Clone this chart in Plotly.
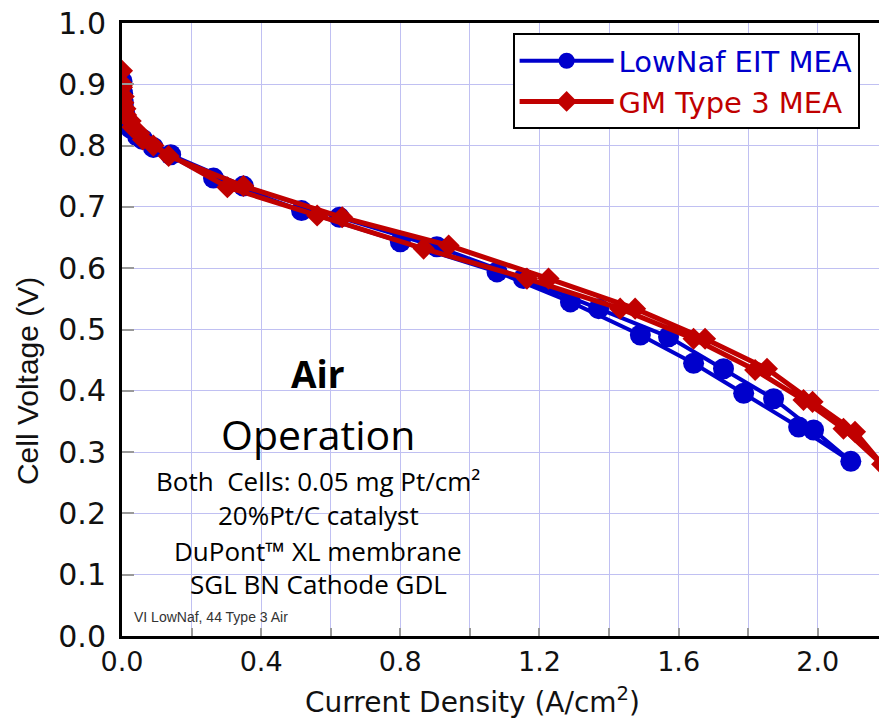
import plotly.graph_objects as go

# LowNaf EIT MEA (sweep up then back down)
blue_x = [0.0, 0.002, 0.004, 0.008, 0.02, 0.045, 0.09, 0.263, 0.516, 0.80, 1.078, 1.289, 1.49, 1.643, 1.787, 1.945, 2.095,
          1.988, 1.873, 1.729, 1.571, 1.37, 1.154, 0.905, 0.625, 0.349, 0.14, 0.06, 0.025, 0.01, 0.003, 0.0]
blue_y = [0.905, 0.885, 0.87, 0.853, 0.833, 0.815, 0.797, 0.747, 0.694, 0.643, 0.594, 0.545, 0.491, 0.445, 0.396, 0.341, 0.285,
          0.336, 0.387, 0.436, 0.488, 0.534, 0.583, 0.635, 0.683, 0.734, 0.785, 0.81, 0.828, 0.845, 0.865, 0.89]

# GM Type 3 MEA
red_x = [0.0, 0.002, 0.005, 0.01, 0.025, 0.05, 0.09, 0.303, 0.561, 0.867, 1.164, 1.432, 1.643, 1.82, 1.959, 2.074, 2.185,
         2.107, 1.985, 1.854, 1.676, 1.475, 1.226, 0.939, 0.633, 0.349, 0.134, 0.06, 0.03, 0.012, 0.004, 0.0]
red_y = [0.922, 0.90, 0.88, 0.86, 0.84, 0.82, 0.80, 0.732, 0.686, 0.632, 0.583, 0.534, 0.485, 0.434, 0.385, 0.338, 0.28,
         0.333, 0.382, 0.436, 0.485, 0.534, 0.583, 0.637, 0.683, 0.734, 0.783, 0.81, 0.83, 0.85, 0.87, 0.895]

series_names = ["LowNaf EIT MEA", "GM Type 3 MEA"]
blue = "#0000cc"
red = "#c00000"

notes = ["Both  Cells: 0.05 mg Pt/cm²", "20%Pt/C catalyst", "DuPont™ XL membrane", "SGL BN Cathode GDL"]
note_y = [0.253, 0.198, 0.139, 0.085]

fig = go.Figure()
fig.add_trace(go.Scatter(x=blue_x, y=blue_y,
                         name=f"<span style='color:{blue}'>{series_names[0]}</span>",
                         mode="lines+markers",
                         line=dict(color=blue, width=4),
                         marker=dict(symbol="circle", size=21, color=blue)))
fig.add_trace(go.Scatter(x=red_x, y=red_y,
                         name=f"<span style='color:{red}'>{series_names[1]}</span>",
                         mode="lines+markers",
                         line=dict(color=red, width=5),
                         marker=dict(symbol="diamond", size=17, color=red)))

grid = "#c0c0f2"
fig.update_xaxes(range=[0, 2.176], dtick=0.4, tick0=0, tickformat=".1f",
                 showline=True, linecolor="black", linewidth=3, mirror=True,
                 ticks="inside", ticklen=8, tickcolor="#999999", tickwidth=1.5,
                 showgrid=True, gridcolor=grid, gridwidth=1, zeroline=False,
                 minor=dict(dtick=0.2, showgrid=True, gridcolor=grid, gridwidth=1,
                            ticks="inside", ticklen=8, tickcolor="#999999", tickwidth=1.5),
                 tickfont=dict(family="DejaVu Sans", size=27, color="#111111"))
fig.update_yaxes(range=[0, 1.0], dtick=0.1, tick0=0, tickformat=".1f",
                 showline=True, linecolor="black", linewidth=3, mirror=False,
                 ticks="inside", ticklen=12, tickcolor="#999999", tickwidth=1.5,
                 showgrid=True, gridcolor=grid, gridwidth=1, zeroline=False,
                 tickfont=dict(family="DejaVu Sans", size=30, color="#111111"),
                 ticklabelstandoff=7)

# axis titles (placed as in the reference, off-centre)
fig.add_annotation(x=-0.124, y=0.416, xref="paper", yref="paper", text="Cell Voltage (V)",
                   textangle=-90, showarrow=False, xanchor="center", yanchor="middle",
                   font=dict(family="Liberation Sans", size=30, color="#111111"))
fig.add_annotation(x=0.463, y=-0.105, xref="paper", yref="paper", text="Current Density (A/cm<sup>2</sup>)",
                   showarrow=False, xanchor="center", yanchor="middle",
                   font=dict(family="DejaVu Sans", size=28, color="#111111"))

fig.add_annotation(x=0.564, y=0.428, xref="x", yref="y", text="<b>Air</b>", showarrow=False,
                   font=dict(family="Open Sans", size=37, color="black"))
fig.add_annotation(x=0.564, y=0.330, xref="x", yref="y", text="Operation", showarrow=False,
                   font=dict(family="Open Sans", size=41, color="black"))
for t, yy in zip(notes, note_y):
    fig.add_annotation(x=0.564, y=yy, xref="x", yref="y", text=t, showarrow=False,
                       font=dict(family="Open Sans", size=26, color="black"))
fig.add_annotation(x=0.03, y=0.031, xref="x", yref="y", text="VI LowNaf, 44 Type 3 Air", showarrow=False,
                   xanchor="left", font=dict(family="Liberation Sans", size=14, color="#333333"))

fig.update_layout(
    width=879, height=721,
    margin=dict(l=122, r=0, t=23, b=85),
    paper_bgcolor="white", plot_bgcolor="white",
    legend=dict(x=0.516, y=0.983, xanchor="left", yanchor="top",
                bgcolor="white", bordercolor="black", borderwidth=2,
                font=dict(family="DejaVu Sans", size=29), itemwidth=94),
    showlegend=True,
)
fig.write_html("out.html")
